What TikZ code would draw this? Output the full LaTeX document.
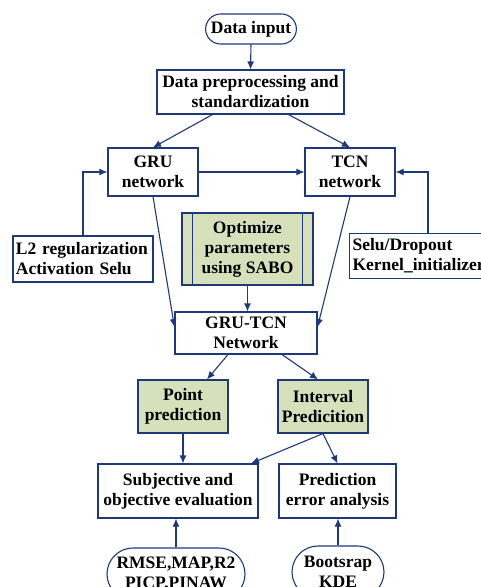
\documentclass[tikz,border=0pt]{standalone}
\usepackage{fontspec}
\setmainfont{Liberation Serif}
\usepackage{tikz}
\usetikzlibrary{
    arrows.meta,
    calc,
    positioning,
    shapes.misc,
}
\definecolor{MyNavy}{RGB}{31,56,120}
\definecolor{MyGreen}{RGB}{214,225,188}
\tikzset{
    >={Latex[length=8pt,width=7pt]}
}

\begin{document}
\begin{tikzpicture}[
    x=1pt,y=-1pt,
    font=\fontsize{17.5}{20}\selectfont\bfseries,
    box/.style={draw=MyNavy,line width=1.1pt,fill=white,align=center,inner sep=3pt},
    greenbox/.style={box,fill=MyGreen},
    pill/.style={draw=MyNavy,line width=1.1pt,fill=white,rounded rectangle,align=center,inner sep=3pt},
    arr/.style={->,MyNavy,line width=1.1pt}
    ]
    \useasboundingbox (0,0) rectangle (481,587);
    \clip (0,0) rectangle (481,587);

    % top part
    \node[pill,minimum width=88pt,minimum height=30pt] (input) at (251,29) {Data input};
    \node[box,minimum width=187pt,minimum height=44pt] (prep) at (250.5,92) {Data preprocessing and\\standardization};
    \node[box,minimum width=90pt,minimum height=48pt] (gru) at (153,172) {GRU\\network};
    \node[box,minimum width=90pt,minimum height=48pt] (tcn) at (350,172) {TCN\\network};

    % side boxes
    \node[box,align=left,text width=134pt,minimum height=46pt] (l2) at (83,259) {L2 regularization\\Activation Selu};
    \node[box,align=left,text width=152pt,minimum height=45pt,anchor=north west] (selu) at (349,233) {Selu/Dropout\\Kernel\_initializer};
    \node[greenbox,minimum width=131pt,minimum height=72pt] (opt) at (247.5,249) {Optimize\\parameters\\using SABO};
    \draw[MyNavy,line width=1.1pt] ([xshift=11pt]opt.north west) -- ([xshift=11pt]opt.south west);
    \draw[MyNavy,line width=1.1pt] ([xshift=-11pt]opt.north east) -- ([xshift=-11pt]opt.south east);

    % middle
    \node[box,minimum width=142pt,minimum height=42pt] (gtcn) at (246,333) {GRU-TCN\\Network};
    \node[greenbox,minimum width=90pt,minimum height=53pt] (point) at (183,406.5) {Point\\prediction};
    \node[greenbox,minimum width=90pt,minimum height=53pt] (interval) at (323,406.5) {Interval\\Predicition};

    % bottom
    \node[box,minimum width=160pt,minimum height=54pt] (subj) at (178,491) {Subjective and\\objective evaluation};
    \node[box,minimum width=117pt,minimum height=54pt] (perr) at (337.5,491) {Prediction\\error analysis};
    \node[pill,minimum width=144pt,minimum height=52pt] (rmse) at (176,574) {RMSE,MAP,R2\\PICP,PINAW};
    \node[pill,minimum width=98pt,minimum height=52pt] (boot) at (338,572) {Bootsrap\\KDE};

    \draw[arr] (input.south) -- (prep.north);
    \draw[arr] ([xshift=-38pt]prep.south) -- (gru.north);
    \draw[arr] ([xshift=38pt]prep.south) -- (tcn.north);
    \draw[arr] (gru.east) -- (tcn.west);
    \draw[arr] (l2.north) |- (gru.west);
    \draw[arr] ([xshift=79pt]selu.north west) |- (tcn.east);

    \draw[arr] (gru.south) -- ([yshift=6pt]gtcn.west);
    \draw[arr] (tcn.south) -- ([yshift=6pt]gtcn.east);
    \draw[arr] (opt.south) -- (opt.south |- gtcn.north);

    \draw[arr] ([xshift=-18pt]gtcn.south) -- ([xshift=24pt]point.north);
    \draw[arr] ([xshift=36pt]gtcn.south) -- ([xshift=-5pt]interval.north);

    \draw[arr] (point.south) -- (point.south |- subj.north);
    \draw[arr] (interval.south) -- ([xshift=73pt]subj.north);
    \draw[arr] (interval.south) -- (perr.north);

    \draw[arr] (rmse.north) -- (rmse.north |- subj.south);
    \draw[arr] (boot.north) -- (boot.north |- perr.south);
\end{tikzpicture}
\end{document}
